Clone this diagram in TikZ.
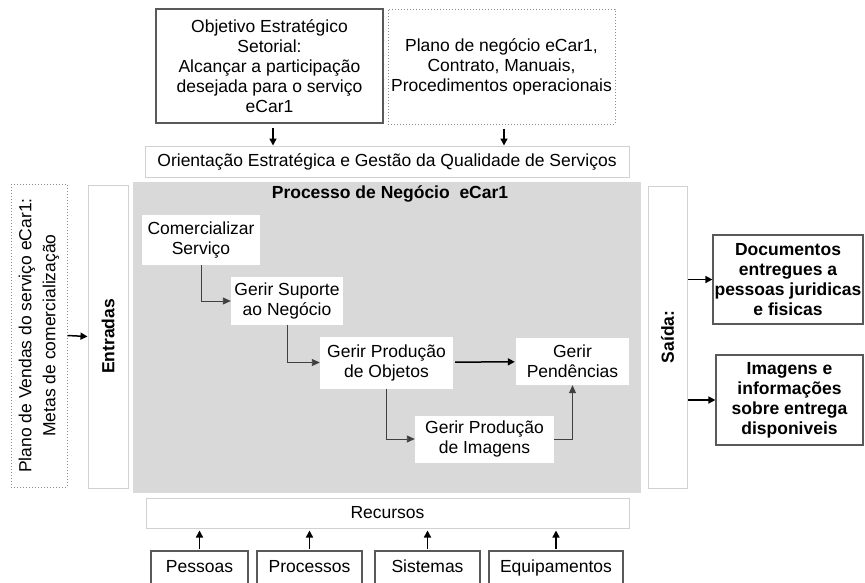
\documentclass[tikz,border=0pt]{standalone}
\usepackage{fontspec}
\setmainfont{Liberation Sans}
\usetikzlibrary{arrows.meta}

\begin{document}
\begin{tikzpicture}[x=1pt,y=-1pt,
    font=\fontsize{17.5pt}{20pt}\selectfont,
    bold/.style={font=\fontsize{17.5pt}{20pt}\selectfont\bfseries},
    darkbox/.style={draw=black!65,line width=1.2pt,fill=white,align=center,inner sep=0pt},
    dotbox/.style={draw=black!45,dotted,line width=1pt,align=center,inner sep=0pt},
    lightbox/.style={draw=black!18,line width=1pt,fill=white,align=center,inner sep=0pt},
    stepbox/.style={fill=white,align=center,inner sep=0pt},
    resbox/.style={darkbox,text height=12.5pt,text depth=3.5pt},
    flow/.style={draw=black!75,line width=0.9pt,-{Triangle[length=8pt,width=7pt]}},
    feed/.style={line width=1.5pt,-{Triangle[length=7pt,width=7pt]}}]
  \useasboundingbox (0,0) rectangle (865,582);
  \draw
    (387,337.5) node[fill=black!15,minimum width=508pt,minimum height=311pt] (processo){}
    (390,194) node[bold] (titulo){Processo de Negócio\ \ eCar1}
    (269.5,66) node[darkbox,minimum width=227pt,minimum height=114pt] (objetivo)
      {Objetivo Estratégico\\Setorial:\\Alcançar a participação\\desejada para o serviço\\eCar1}
    (501.5,66.5) node[dotbox,minimum width=227pt,minimum height=115pt] (plano)
      {Plano de negócio eCar1,\\Contrato, Manuais,\\Procedimentos operacionais}
    (387,161.5) node[lightbox,minimum width=484pt,minimum height=31pt] (orientacao)
      {Orientação Estratégica e Gestão da Qualidade de Serviços}
    (39,335.5) node[dotbox,rotate=90,minimum width=303pt,minimum height=56pt,
      font=\fontsize{17.5pt}{24pt}\selectfont] (vendas)
      {Plano de Vendas do serviço eCar1:\\Metas de comercialização}
    (108,336.5) node[lightbox,bold,rotate=90,minimum width=303pt,minimum height=40pt] (entradas){Entradas}
    (667.5,337) node[lightbox,bold,rotate=90,minimum width=302pt,minimum height=39pt] (saida){Saída:}
    (201,240) node[stepbox,minimum width=118pt,minimum height=50pt] (comercializar){Comercializar\\Serviço}
    (287,301) node[stepbox,minimum width=112pt,minimum height=48pt] (suporte){Gerir Suporte\\ao Negócio}
    (386.5,362.5) node[stepbox,minimum width=133pt,minimum height=52pt] (objetos){Gerir Produção\\de Objetos}
    (572.5,361.5) node[stepbox,minimum width=113pt,minimum height=47pt] (pendencias){Gerir\\Pendências}
    (484.5,439) node[stepbox,minimum width=139pt,minimum height=47pt] (imagens){Gerir Produção\\de Imagens}
    (788,279.5) node[darkbox,bold,minimum width=150pt,minimum height=89pt] (documentos)
      {Documentos\\entregues a\\pessoas juridicas\\e fisicas}
    (789.5,400) node[darkbox,bold,minimum width=147pt,minimum height=90pt] (informacoes)
      {Imagens e\\informações\\sobre entrega\\disponiveis}
    (387.5,513) node[lightbox,minimum width=483pt,minimum height=30pt] (recursos){Recursos}
    (199.5,568) node[resbox,minimum width=97pt,minimum height=34pt] (pessoas){Pessoas}
    (309.5,568) node[resbox,minimum width=105pt,minimum height=34pt] (processos){Processos}
    (427.5,568) node[resbox,minimum width=105pt,minimum height=34pt] (sistemas){Sistemas}
    (556,568) node[resbox,minimum width=134pt,minimum height=34pt] (equipamentos){Equipamentos};
  % ligacoes do processo
  \begin{scope}[flow]
    \draw (comercializar) |- (suporte);
    \draw (suporte) |- (objetos);
    \draw (objetos) |- (imagens);
    \draw (imagens) -| (pendencias);
  \end{scope}
  % entradas, saidas e recursos
  \begin{scope}[feed]
    \draw[shorten <=2pt,shorten >=1pt] (objetos) -- (pendencias);
    \draw[shorten <=4pt] (objetivo.south -| 273,0) -- (orientacao.north -| 273,0);
    \draw[shorten <=4pt] (plano.south -| 504,0) -- (orientacao.north -| 504,0);
    \draw (vendas.south) -- (entradas.north);
    \draw (saida.south |- documentos.west) -- (documentos.west);
    \draw (saida.south |- informacoes.west) -- (informacoes.west);
    \draw[shorten <=1pt,shorten >=2pt] (pessoas) -- (pessoas |- recursos.south);
    \draw[shorten <=1pt,shorten >=2pt] (processos) -- (processos |- recursos.south);
    \draw[shorten <=1pt,shorten >=2pt] (sistemas) -- (sistemas |- recursos.south);
    \draw[shorten <=1pt,shorten >=2pt] (equipamentos) -- (equipamentos |- recursos.south);
  \end{scope}
\end{tikzpicture}
\end{document}
